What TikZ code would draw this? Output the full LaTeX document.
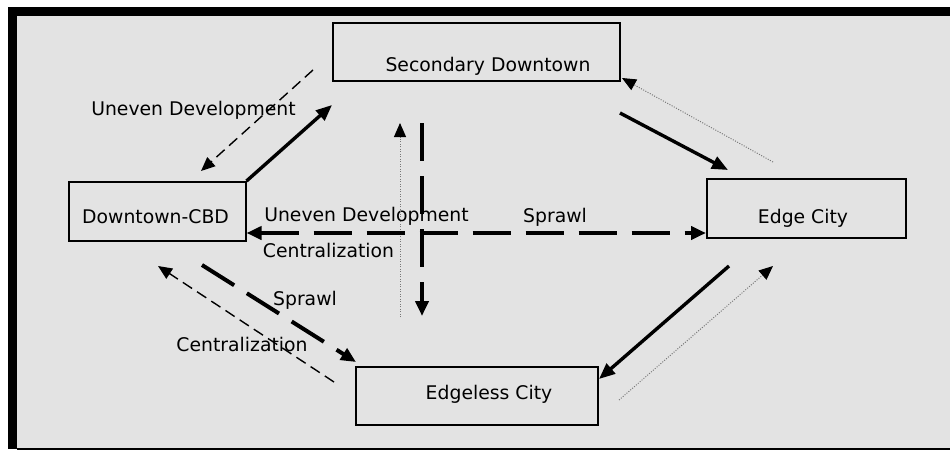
\documentclass[tikz,border=0pt]{standalone}
\usepackage{fontspec}
\setmainfont{DejaVu Sans}
\usetikzlibrary{arrows.meta}
\definecolor{panel}{RGB}{227,227,227}
\definecolor{dotgray}{RGB}{120,120,120}
\tikzset{
  box/.style={draw=black, line width=2pt, inner sep=0pt},
  lbl/.style={inner sep=0pt, anchor=base, font=\fontsize{18.8}{22}\selectfont},
  flowsolid/.style={draw=black, line width=3.4pt, -{Triangle[length=16pt,width=13pt]}},
  flowdash/.style={draw=black, line width=4pt, dash pattern=on 38pt off 15pt, -{Triangle[length=15pt,width=13pt]}},
  backdash/.style={draw=black, line width=1.4pt, dash pattern=on 11pt off 6pt, -{Triangle[length=14pt,width=12pt]}},
  backdot/.style={draw=dotgray, line width=1pt, dash pattern=on 1pt off 1.5pt, -{Triangle[length=14pt,width=12pt,black]}},
}
\begin{document}
\begin{tikzpicture}[x=1pt, y=-1pt]
\useasboundingbox (0,0) rectangle (950,450);
% frame and panel
\fill[white] (0,0) rectangle (950,450);
\fill[black] (8,7) rectangle (950,16);
\fill[black] (8,7) rectangle (17,449);
\fill[panel] (17,16) rectangle (950,448.3);
\fill[black] (17,448.3) rectangle (950,450);

% boxes
\node[box, minimum width=287pt, minimum height=58pt] (sd)  at (476.5,52)   {};
\node[box, minimum width=176.5pt, minimum height=59pt] (cbd) at (157.25,211.5) {};
\node[box, minimum width=199pt, minimum height=59pt] (ec)  at (806.5,208.5) {};
\node[box, minimum width=242pt, minimum height=58pt] (edl) at (477,396)    {};

% box captions
\node[lbl] (sdt)  at (488,71)    {Secondary Downtown};
\node[lbl] (cbdt) at (155.5,223) {Downtown-CBD};
\node[lbl] (ect)  at (803,223)   {Edge City};
\node[lbl] (edlt) at (489,399.5) {Edgeless City};

% flow labels
\node[lbl] (l1) at (193.5,115) {Uneven Development};
\node[lbl] (l2) at (366.5,221.7) {Uneven Development};
\node[lbl] (l3) at (328.5,257) {Centralization};
\node[lbl] (l4) at (555,222.7) {Sprawl};
\node[lbl] (l5) at (305,305) {Sprawl};
\node[lbl] (l6) at (242,351.7) {Centralization};

% connector end points
\coordinate (a1s) at (313,70);  \coordinate (a1e) at (201,171);
\coordinate (a2e) at (332,105);
\coordinate (a3s) at (400,317); \coordinate (a3e) at (400,123);
\coordinate (a4s) at (422,123); \coordinate (a4e) at (422,316);
\coordinate (hy)  at (0,233);
\coordinate (a6s) at (620,113); \coordinate (a6e) at (728,170);
\coordinate (a7s) at (773,162); \coordinate (a7e) at (622,78);
\coordinate (a8s) at (729,266); \coordinate (a8e) at (0,379);
\coordinate (a9s) at (619,400); \coordinate (a9e) at (773,266);
\coordinate (a10s) at (202,265); \coordinate (a10e) at (356,362);
\coordinate (a11s) at (334,382); \coordinate (a11e) at (158,266);

% connectors
\draw[backdash] (a1s) -- (a1e);
\draw[flowsolid] (cbd.north east) -- (a2e);
\draw[backdot] (a3s) -- (a3e);
\draw[flowdash] (a4s) -- (a4e);
\draw[flowdash, {Triangle[length=15pt,width=13pt]}-{Triangle[length=15pt,width=13pt]}] (cbd.east |- hy) -- (ec.west |- hy);
\draw[flowsolid] (a6s) -- (a6e);
\draw[backdot] (a7s) -- (a7e);
\draw[flowsolid] (a8s) -- (edl.east |- a8e);
\draw[backdot] (a9s) -- (a9e);
\draw[flowdash] (a10s) -- (a10e);
\draw[backdash] (a11s) -- (a11e);
\end{tikzpicture}
\end{document}
